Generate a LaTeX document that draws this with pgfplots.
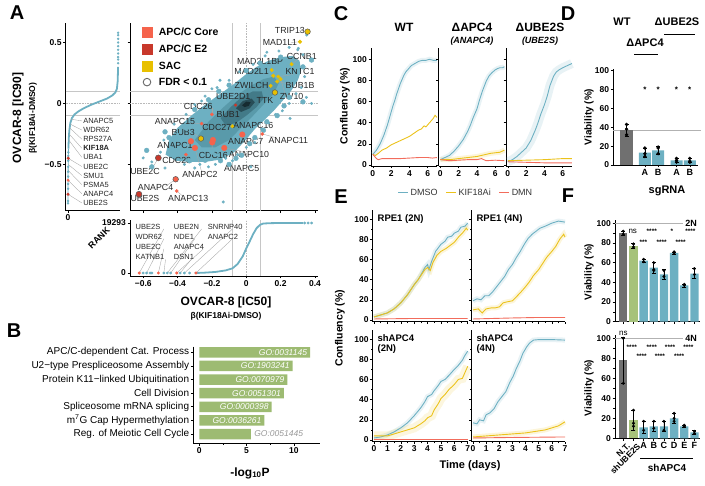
\documentclass[border=0pt]{standalone}
\usepackage{pgfplots}
\usepackage{pgfplotstable}
\pgfplotsset{compat=1.18}
\usepackage{fontspec}
\setmainfont{Liberation Sans}
\definecolor{tealc}{HTML}{6DB0C2}
\definecolor{goldc}{HTML}{EBC21B}
\definecolor{dmnc}{HTML}{F26C5C}
\definecolor{corec}{HTML}{F5634C}
\definecolor{e2c}{HTML}{C8382B}
\definecolor{sacc}{HTML}{E8C000}
\definecolor{grayb}{HTML}{707070}
\definecolor{greenb}{HTML}{A6C27A}
\definecolor{goc}{HTML}{9DBB72}
\definecolor{tl2}{HTML}{5595A5}
\definecolor{tl3}{HTML}{3D7280}
\definecolor{tl4}{HTML}{24464F}
\definecolor{tl5}{HTML}{15282D}
\newcommand{\fs}[1]{\fontsize{#1}{#1}\selectfont}
\pgfplotsset{
 base/.style={scale only axis, axis x line*=bottom, axis y line*=left,
   axis line style={line width=0.8pt, black},
   every tick/.append style={black, line width=0.6pt},
   scaled ticks=false,
   tick align=outside, major tick length=2.5pt, minor tick length=1.6pt,
   ticklabel style={font=\bfseries\fs{8.5}, inner sep=1.5pt}, clip=false},
 curve/.style={line width=0.9pt},
 band/.style={line width=5pt, opacity=0.16, forget plot},
}
\tikzset{gl/.style={font=\fs{8.8}, inner sep=0.5pt, text=black!85},
 sl/.style={font=\fs{7.5}, inner sep=0.5pt, text=black!85},
 ld/.style={gray!70, line width=0.35pt}}

% ---- C data
\pgfplotstableread{
x y
0 10
0.2 12
0.4 14
0.6 17
0.8 20
1 24
1.2 28
1.4 33
1.6 38
1.8 44
2 50
2.2 56
2.4 61
2.6 67
2.8 72
3 77
3.2 81
3.4 85
3.6 88
3.8 90
4 92
4.2 94
4.4 95
4.6 96
4.8 97
5 98
5.4 99
5.8 99
6.2 100
6.6 99
7 99
}\cWTd
\pgfplotstableread{
x y
0 10
0.3 9
0.6 11
1 14
1.5 16
2 19
2.5 21
3 23
3.5 25
4 27
4.5 30
5 33
5.3 34
5.6 37
5.8 36
6 38
6.2 40
6.4 42
6.6 44
6.8 47
7 45
}\cWTk
\pgfplotstableread{
x y
0 10
0.2 8
0.4 6
0.6 5
1 6
2 6
3 6
4 6.5
5 7
6 7
6.5 6.5
7 7
}\cWTm
\pgfplotstableread{
x y
0 5
0.5 7
1 9
1.5 13
2 18
2.5 24
3 32
3.3 38
3.6 45
4 53
4.3 62
4.6 70
5 79
5.3 84
5.6 87
6 90
6.2 91
6.5 92
6.8 92
7 93
}\cAd
\pgfplotstableread{
x y
0 5
1 5
2 6
3 7
4 8
5 10
5.5 11
6 11.5
6.5 12
7 14
}\cAk
\pgfplotstableread{
x y
0 5
1 4
2 4.5
3 5
4 5
4.5 6
5 4
6 4.5
7 4
}\cAm
\pgfplotstableread{
x y
0 3
0.5 5
1 8
1.5 12
2 16
2.5 23
3 33
3.3 40
3.6 48
4 57
4.3 65
4.6 75
5 84
5.3 88
5.6 90
6 92
6.5 94
7 96
}\cUd
\pgfplotstableread{
x y
0 4
2 4.5
4 5
6 6
7 6
}\cUk
\pgfplotstableread{
x y
0 3
2 2.5
4 2
7 2
}\cUm
% ---- E data
\pgfplotstableread{
x y
0 3
0.5 5
1 7
1.5 11
2 17
2.5 25
3 35
3.3 40
3.6 47
3.8 52
4 55
4.1 50
4.3 58
4.6 68
5 75
5.3 78
5.5 82
5.8 83
6 86
6.3 88
6.5 92
6.8 93
7 96
}\eAd
\pgfplotstableread{
x y
0 3
0.5 5
1 7
1.5 11
2 17
2.5 25
3 35
3.3 40
3.6 46
3.8 50
4 52
4.2 49
4.4 57
4.7 64
5 68
5.4 71
5.7 74
6 77
6.3 82
6.6 86
6.9 91
7 89
}\eAk
\pgfplotstableread{
x y
0 1
3 1.5
5 1.5
7 1.5
}\eAm
\pgfplotstableread{
x y
0 19
0.3 21
0.6 20
0.9 24
1.2 24
1.5 28
1.8 33
2.1 38
2.4 43
2.7 50
3 55
3.3 62
3.6 68
3.9 75
4.2 81
4.5 85
4.8 88
5.1 91
5.5 93
6 96
6.5 98
7 97
}\eBd
\pgfplotstableread{
x y
0 10
0.4 11
0.7 7
1 11
1.4 12
1.7 12
2 13
2.3 17
2.6 18
3 19
3.3 23
3.6 27
4 33
4.3 38
4.6 44
5 50
5.3 56
5.6 62
6 68
6.3 73
6.6 80
6.9 85
7 82
}\eBk
\pgfplotstableread{
x y
0 1
3 2
5 2.5
7 2.5
}\eBm
\pgfplotstableread{
x y
0 2
0.5 3
1 5
1.5 8
2 12
2.5 17
3 24
3.5 32
3.8 38
4 43
4.3 45
4.5 49
4.8 54
5 58
5.3 60
5.6 64
6 70
6.3 74
6.6 79
6.8 84
7 88
}\eCd
\pgfplotstableread{
x y
0 4
0.5 4
1 4
1.5 6
2 8
2.5 10
3 12
3.5 16
3.8 19
4 22
4.3 24
4.5 30
4.8 36
5 41
5.3 45
5.6 50
6 55
6.3 60
6.6 61
6.8 67
7 73
}\eCk
\pgfplotstableread{
x y
0 1
7 1
}\eCm
\pgfplotstableread{
x y
0 17
0.3 16
0.5 20
0.8 19
1 25
1.3 27
1.6 31
1.9 38
2.2 43
2.5 48
2.8 57
3.05 63
3.3 71
3.56 78
3.8 86
4.07 92
4.3 96
4.6 99
5 99.5
6 99.5
7 99
}\eDd
\pgfplotstableread{
x y
0 3
1 4
2 5
3 6
4 7
5 9
5.5 10
6 12
6.5 14
7 18
}\eDk
\pgfplotstableread{
x y
0 2
3 2.5
7 3
}\eDm

\begin{document}
\begin{tikzpicture}
\useasboundingbox (0pt,0pt) rectangle (705pt,-486pt);

% ================= Panel A: left marginal
\begin{axis}[base, at={(65.7pt,-23pt)}, anchor=north west, width=54.3pt, height=187.7pt,
  xmin=-900, xmax=20000, ymin=-0.88, ymax=0.66,
  xtick={0}, xticklabels={0}, ytick={-0.5,0,0.5}, yticklabels={−0.5,0,0.5}]
\addplot[gray!45, line width=0.8pt] coordinates {(-900,0.1)(20000,0.1)};
\addplot[gray!45, line width=0.8pt] coordinates {(-900,-0.1)(20000,-0.1)};
\addplot[gray!55, line width=0.6pt, densely dotted] coordinates {(-900,0)(20000,0)};
\addplot[tealc, line width=0.8pt] coordinates {(0,-0.82)(0,-0.6)(60,-0.5)(150,-0.37)};
\addplot[tealc, line width=1.8pt] coordinates {(150,-0.37)(300,-0.28)(500,-0.22)(900,-0.16)(1500,-0.12)(2500,-0.09)(4000,-0.065)(6000,-0.04)(9000,-0.01)(12000,0.015)(15000,0.04)(17000,0.065)(18200,0.09)(18800,0.12)(19100,0.18)(19200,0.25)(19250,0.3)};
\addplot[only marks, mark=*, mark size=1pt, tealc] coordinates {(0,-0.82)(0,-0.8)(20,-0.7)(30,-0.66)(40,-0.6)(50,-0.56)(60,-0.52)(80,-0.47)(100,-0.43)(120,-0.4)(19260,0.33)(19270,0.36)(19275,0.38)(19280,0.41)(19285,0.44)(19288,0.47)(19290,0.5)(19293,0.53)(19293,0.56)(19293,0.58)};
\addplot[ld] coordinates {(5300,-0.143)(1300,-0.13)};
\addplot[ld] coordinates {(5300,-0.218)(850,-0.17)};
\addplot[ld] coordinates {(5300,-0.293)(600,-0.2)};
\addplot[ld] coordinates {(5300,-0.367)(400,-0.25)};
\addplot[ld] coordinates {(5300,-0.442)(260,-0.3)};
\addplot[ld] coordinates {(5300,-0.517)(80,-0.45)};
\addplot[ld] coordinates {(5300,-0.592)(55,-0.5)};
\addplot[ld] coordinates {(5300,-0.666)(40,-0.55)};
\addplot[ld] coordinates {(5300,-0.741)(22,-0.63)};
\addplot[ld] coordinates {(5300,-0.816)(5,-0.745)};
\addplot[only marks, mark=*, mark size=1.3pt, corec] coordinates {(22,-0.63)};
\addplot[only marks, mark=*, mark size=1.3pt, e2c] coordinates {(5,-0.745)(80,-0.45)};
\node[sl, anchor=west] at (axis cs:5600,-0.143) {ANAPC5};
\node[sl, anchor=west] at (axis cs:5600,-0.218) {WDR62};
\node[sl, anchor=west] at (axis cs:5600,-0.293) {RPS27A};
\node[sl, anchor=west] at (axis cs:5600,-0.367) {\bfseries KIF18A};
\node[sl, anchor=west] at (axis cs:5600,-0.442) {UBA1};
\node[sl, anchor=west] at (axis cs:5600,-0.517) {UBE2C};
\node[sl, anchor=west] at (axis cs:5600,-0.592) {SMU1};
\node[sl, anchor=west] at (axis cs:5600,-0.666) {PSMA5};
\node[sl, anchor=west] at (axis cs:5600,-0.741) {ANAPC4};
\node[sl, anchor=west] at (axis cs:5600,-0.816) {UBE2S};
\end{axis}

% ================= Panel A: main scatter
\begin{axis}[base, at={(130pt,-23pt)}, anchor=north west, width=188.4pt, height=187.7pt,
  xmin=-0.677, xmax=0.42, ymin=-0.88, ymax=0.66,
  xtick={-0.6,-0.4,-0.2,0,0.2,0.4}, xticklabels={}, ytick={-0.5,0,0.5}, yticklabels={}]
\addplot[gray!45, line width=0.8pt] coordinates {(-0.677,0.1)(0.42,0.1)};
\addplot[gray!45, line width=0.8pt] coordinates {(-0.677,-0.1)(0.42,-0.1)};
\addplot[gray!55, line width=0.6pt, densely dotted] coordinates {(-0.677,0)(0.42,0)};
\addplot[gray!45, line width=0.8pt] coordinates {(-0.08,-0.88)(-0.08,0.66)};
\addplot[gray!45, line width=0.8pt] coordinates {(0.08,-0.88)(0.08,0.66)};
\addplot[gray!55, line width=0.6pt, densely dotted] coordinates {(0,-0.88)(0,0.66)};
% cloud
\addplot[fill=tealc, draw=none] coordinates {(-0.47,-0.42)(-0.45,-0.3)(-0.40,-0.2)(-0.32,-0.1)(-0.24,-0.01)(-0.16,0.07)(-0.08,0.15)(-0.01,0.23)(0.06,0.3)(0.13,0.35)(0.2,0.38)(0.27,0.39)(0.31,0.35)(0.32,0.27)(0.3,0.19)(0.26,0.1)(0.21,0.02)(0.16,-0.06)(0.11,-0.13)(0.05,-0.21)(-0.01,-0.31)(-0.07,-0.4)(-0.15,-0.46)(-0.24,-0.48)(-0.33,-0.48)(-0.41,-0.47)} -- cycle;
\addplot[only marks, mark=*, mark size=1.3pt, tealc] coordinates {(-0.48,-0.3)(-0.44,-0.36)(-0.4,-0.25)(-0.36,-0.5)(-0.3,-0.53)(-0.27,-0.5)(-0.22,-0.52)(-0.18,-0.5)(-0.12,-0.45)(-0.08,-0.47)(-0.05,-0.42)(0.0,-0.36)(0.05,-0.32)(0.09,-0.21)(0.13,-0.16)(0.17,-0.09)(0.21,-0.06)(0.25,0.0)(0.29,0.08)(0.32,0.13)(0.34,0.22)(0.3,0.44)(0.25,0.46)(0.19,0.43)(0.11,0.39)(0.04,0.32)(-0.04,0.26)(-0.1,0.19)(-0.17,0.13)(-0.24,0.06)(-0.3,-0.01)(-0.35,-0.09)(-0.42,-0.17)(-0.5,-0.4)(-0.55,-0.48)(0.255,-0.123)(-0.153,0.19)(0.352,0.561)(0.303,0.452)(-0.134,-0.808)(0.35,0.05)(0.38,0.0)(0.027,-0.52)(-0.6,-0.447)(-0.473,-0.53)(-0.2,0.12)(-0.26,0.02)(0.12,0.42)(0.33,0.4)};
\addplot[only marks, mark=*, mark size=2.4pt, tealc] coordinates {(0.38,0.356)(0.33,0.013)(-0.473,-0.233)(-0.58,-0.385)(-0.24,-0.466)(-0.027,-0.425)(-0.06,-0.45)(-0.15,-0.47)(0.1,-0.22)(0.18,-0.1)(0.25,0.05)(-0.3,-0.05)(-0.1,0.15)(0.0,0.27)(0.2,0.38)(-0.45,-0.28)(-0.35,-0.2)(0.05,-0.28)(-0.2,-0.4)(0.3,0.3)(0.28,0.22)(-0.38,-0.38)(-0.55,-0.52)(-0.22,0.03)(-0.16,0.1)(0.12,-0.15)(0.22,-0.02)(0.33,0.3)(0.08,0.33)(-0.42,-0.43)(-0.33,-0.47)(0.02,-0.33)(-0.1,-0.5)};
\addplot[fill=tl2, draw=none, opacity=0.8] coordinates {(-0.3,-0.3)(-0.22,-0.15)(-0.14,-0.04)(-0.06,0.06)(0.02,0.14)(0.1,0.2)(0.16,0.22)(0.19,0.17)(0.16,0.08)(0.1,-0.01)(0.04,-0.1)(-0.03,-0.2)(-0.1,-0.3)(-0.18,-0.36)(-0.26,-0.36)} -- cycle;
\addplot[fill=tl3, draw=none, opacity=0.8] coordinates {(-0.15,-0.12)(-0.09,-0.03)(-0.03,0.05)(0.04,0.1)(0.09,0.1)(0.1,0.04)(0.06,-0.03)(0.0,-0.1)(-0.06,-0.16)(-0.12,-0.18)} -- cycle;
\addplot[fill=tl4, draw=none, opacity=0.85] coordinates {(-0.06,-0.04)(-0.02,0.02)(0.03,0.04)(0.05,0.01)(0.02,-0.04)(-0.03,-0.07)} -- cycle;
\addplot[fill=tl5, draw=none, opacity=0.9] coordinates {(-0.025,-0.015)(0.0,0.015)(0.025,0.01)(0.015,-0.02)(-0.01,-0.03)} -- cycle;
% leader lines
\addplot[ld] coordinates {(0.31,0.6)(0.357,0.589)};
\addplot[ld] coordinates {(0.26,0.5)(0.313,0.506)};
\addplot[ld] coordinates {(0.3,0.36)(0.264,0.322)};
\addplot[ld] coordinates {(0.29,0.24)(0.186,0.22)};
\addplot[ld] coordinates {(0.28,0.15)(0.18,0.18)};
\addplot[ld] coordinates {(0.23,0.06)(0.2,0.2)};
\addplot[ld] coordinates {(-0.2,-0.04)(-0.2,-0.09)};
\addplot[ld] coordinates {(-0.34,-0.16)(-0.26,-0.165)};
\addplot[ld] coordinates {(-0.09,-0.19)(-0.081,-0.187)};
\addplot[ld] coordinates {(-0.3,-0.25)(-0.264,-0.288)};
\addplot[ld] coordinates {(0.17,-0.28)(0.093,-0.25)};
\addplot[ld] coordinates {(-0.34,-0.35)(-0.322,-0.31)};
\addplot[ld] coordinates {(-0.2,-0.4)(-0.198,-0.32)};
\addplot[ld] coordinates {(0.0,-0.4)(-0.128,-0.365)};
\addplot[ld] coordinates {(-0.36,-0.45)(-0.351,-0.42)};
\addplot[ld] coordinates {(0.0,-0.51)(0.027,-0.52)};
\addplot[ld] coordinates {(-0.55,-0.54)(-0.512,-0.447)};
\addplot[ld] coordinates {(-0.26,-0.56)(-0.299,-0.365)};
\addplot[ld] coordinates {(-0.47,-0.68)(-0.411,-0.622)};
\addplot[ld] coordinates {(-0.37,-0.76)(-0.405,-0.718)};
\addplot[ld] coordinates {(-0.6,-0.76)(-0.625,-0.745)};
% gene points
\addplot[only marks, mark=*, mark size=1.6pt, corec] coordinates {(-0.2,-0.09)(-0.26,-0.165)(-0.351,-0.42)(-0.405,-0.718)(0.093,-0.25)};
\addplot[only marks, mark=*, mark size=2.8pt, corec] coordinates {(-0.194,-0.30)(-0.023,-0.255)(-0.322,-0.31)(-0.299,-0.365)(-0.128,-0.365)(-0.198,-0.32)};
\addplot[only marks, mark=*, mark size=2.8pt, corec, mark options={draw=black!65, line width=0.5pt}] coordinates {(-0.411,-0.622)};
\addplot[only marks, mark=*, mark size=1.3pt, e2c] coordinates {(-0.062,-0.014)};
\addplot[only marks, mark=*, mark size=3pt, e2c, mark options={draw=black!65, line width=0.5pt}] coordinates {(-0.512,-0.447)(-0.625,-0.745)};
\addplot[only marks, mark=*, mark size=1.8pt, sacc] coordinates {(0.313,0.506)(0.264,0.322)(0.148,0.274)(0.157,0.227)(0.186,0.22)(0.142,0.145)(0.18,0.18)(0.2,0.2)(-0.081,-0.187)};
\addplot[only marks, mark=*, mark size=2.8pt, sacc, mark options={draw=black!65, line width=0.5pt}] coordinates {(0.357,0.589)(0.167,0.09)(-0.264,-0.288)};
% labels
\node[gl] at (axis cs:0.254,0.602) {TRIP13};
\node[gl] at (axis cs:0.196,0.501) {MAD1L1};
\node[gl] at (axis cs:0.323,0.383) {CCNB1};
\node[gl] at (axis cs:0.08,0.342) {MAD2L1BP};
\node[gl] at (axis cs:0.031,0.26) {MAD2L1};
\node[gl] at (axis cs:0.313,0.26) {KNTC1};
\node[gl] at (axis cs:0.031,0.15) {ZWILCH};
\node[gl] at (axis cs:0.313,0.15) {BUB1B};
\node[gl] at (axis cs:0.109,0.027) {TTK};
\node[gl] at (axis cs:0.264,0.054) {ZW10};
\node[gl] at (axis cs:-0.076,0.054) {UBE2D1};
\node[gl] at (axis cs:-0.28,-0.028) {CDC26};
\node[gl] at (axis cs:-0.105,-0.088) {BUB1};
\node[gl] at (axis cs:-0.415,-0.145) {ANAPC15};
\node[gl] at (axis cs:-0.172,-0.2) {CDC27};
\node[gl] at (axis cs:0.041,-0.184) {ANAPC16};
\node[gl] at (axis cs:-0.367,-0.238) {BUB3};
\node[gl] at (axis cs:-0.003,-0.31) {ANAPC7};
\node[gl] at (axis cs:0.245,-0.30) {ANAPC11};
\node[gl] at (axis cs:-0.415,-0.348) {ANAPC1};
\node[gl] at (axis cs:-0.192,-0.425) {CDC16};
\node[gl] at (axis cs:0.016,-0.42) {ANAPC10};
\node[gl] at (axis cs:-0.405,-0.471) {CDC23};
\node[gl] at (axis cs:-0.027,-0.534) {ANAPC5};
\node[gl] at (axis cs:-0.59,-0.562) {UBE2C};
\node[gl] at (axis cs:-0.27,-0.583) {ANAPC2};
\node[gl] at (axis cs:-0.528,-0.69) {ANAPC4};
\node[gl] at (axis cs:-0.338,-0.776) {ANAPC13};
\node[gl] at (axis cs:-0.59,-0.776) {UBE2S};
% legend
\addplot[only marks, mark=square*, mark size=5pt, corec] coordinates {(-0.578,0.586)};
\addplot[only marks, mark=square*, mark size=5pt, e2c] coordinates {(-0.578,0.446)};
\addplot[only marks, mark=square*, mark size=5pt, sacc] coordinates {(-0.578,0.306)};
\addplot[only marks, mark=o, mark size=3.8pt, black!60, mark options={line width=0.9pt}] coordinates {(-0.578,0.175)};
\node[anchor=west, font=\bfseries\fs{10.5}, inner sep=0] at (axis cs:-0.51,0.586) {APC/C Core};
\node[anchor=west, font=\bfseries\fs{10.5}, inner sep=0] at (axis cs:-0.51,0.446) {APC/C E2};
\node[anchor=west, font=\bfseries\fs{10.5}, inner sep=0] at (axis cs:-0.51,0.306) {SAC};
\node[anchor=west, font=\bfseries\fs{10.5}, inner sep=0] at (axis cs:-0.51,0.175) {FDR < 0.1};
\end{axis}

% ================= Panel A: lower marginal
\begin{axis}[base, at={(130pt,-220pt)}, anchor=north west, width=188.4pt, height=56pt,
  xmin=-0.677, xmax=0.42, ymin=-1158, ymax=20451,
  xtick={-0.6,-0.4,-0.2,0,0.2,0.4}, xticklabels={−0.6,−0.4,−0.2,0,0.2,0.4},
  ytick={0,19293}, yticklabels={0,19293}]
\addplot[gray!45, line width=0.8pt] coordinates {(-0.08,-1158)(-0.08,20451)};
\addplot[gray!45, line width=0.8pt] coordinates {(0.08,-1158)(0.08,20451)};
\addplot[gray!55, line width=0.6pt, densely dotted] coordinates {(0,-1158)(0,20451)};
\addplot[ld] coordinates {(-0.48,17000)(-0.623,0)};
\addplot[ld] coordinates {(-0.48,13200)(-0.58,0)};
\addplot[ld] coordinates {(-0.48,9300)(-0.512,0)};
\addplot[ld] coordinates {(-0.47,5300)(-0.48,0)};
\addplot[ld] coordinates {(-0.26,17000)(-0.46,0)};
\addplot[ld] coordinates {(-0.3,13200)(-0.44,0)};
\addplot[ld] coordinates {(-0.25,9300)(-0.405,0)};
\addplot[ld] coordinates {(-0.32,5300)(-0.385,0)};
\addplot[ld] coordinates {(-0.08,17000)(-0.36,0)};
\addplot[ld] coordinates {(-0.08,13200)(-0.293,0)};
\addplot[tealc, line width=1.8pt] coordinates {(-0.3,0)(-0.25,100)(-0.18,400)(-0.12,1000)(-0.08,1800)(-0.05,3500)(-0.02,6500)(0.0,9500)(0.02,12200)(0.04,15000)(0.06,17300)(0.08,18600)(0.1,19100)(0.15,19250)(0.25,19285)(0.33,19293)};
\addplot[only marks, mark=*, mark size=1.2pt, tealc] coordinates {(-0.6,0)(-0.58,0)(-0.56,0)(-0.55,0)(-0.48,0)(-0.46,0)(-0.44,0)(-0.385,0)(-0.36,0)(-0.33,0)(0.34,19293)(0.36,19293)(0.38,19293)};
\addplot[only marks, mark=*, mark size=1.3pt, corec] coordinates {(-0.623,0)(-0.512,0)(-0.405,0)(-0.293,0)};
\node[sl, anchor=west] at (axis cs:-0.648,17634) {UBE2S};
\node[sl, anchor=west] at (axis cs:-0.648,13775) {WDR62};
\node[sl, anchor=west] at (axis cs:-0.648,9917) {UBE2C};
\node[sl, anchor=west] at (axis cs:-0.648,6058) {KATNB1};
\node[sl, anchor=west] at (axis cs:-0.425,17634) {UBE2N};
\node[sl, anchor=west] at (axis cs:-0.425,13775) {NDE1};
\node[sl, anchor=west] at (axis cs:-0.425,9917) {ANAPC4};
\node[sl, anchor=west] at (axis cs:-0.425,6058) {DSN1};
\node[sl, anchor=west] at (axis cs:-0.227,17634) {SNRNP40};
\node[sl, anchor=west] at (axis cs:-0.227,13775) {ANAPC2};
\end{axis}
\node[font=\bfseries\fs{12}] at (226pt,-302pt) {OVCAR-8 [IC50]};
\node[font=\bfseries\fs{8.5}] at (226pt,-316pt) {β(KIF18Ai-DMSO)};
\node[font=\bfseries\fs{12}, rotate=90] at (18pt,-118pt) {OVCAR-8 [IC90]};
\node[font=\bfseries\fs{8.5}, rotate=90] at (33pt,-118pt) {β(KIF18Ai-DMSO)};
\node[font=\bfseries\fs{9}, rotate=45] at (99pt,-238pt) {RANK};

% ================= Panel B
\begin{axis}[base, at={(193.3pt,-346.7pt)}, anchor=north west, width=126.7pt, height=96.6pt,
  xmin=-0.63, xmax=12.75, ymin=0.59, ymax=7.68, y dir=reverse,
  xtick={0,5,10}, xticklabels={0,5,10}, minor xtick={2.5,7.5},
  ytick={1,2,3,4,5,6,7},
  yticklabels={APC/C-dependent Cat. Process, U2−type Prespliceosome Assembly, Protein K11−linked Ubiquitination, Cell Division, Spliceosome mRNA splicing, m\textsuperscript{7}G Cap Hypermethylation, Reg. of Meiotic Cell Cycle},
  yticklabel style={font=\fs{10}}]
\addplot[xbar, bar shift=0pt, bar width=10.5pt, fill=goc, draw=none] coordinates {(11.7,1)(9.86,2)(9.3,3)(8.94,4)(7.64,5)(6.87,6)(5.46,7)};
\node[anchor=east, font=\itshape\fs{8.5}, text=white, inner sep=0] at (axis cs:11.4,1) {GO:0031145};
\node[anchor=east, font=\itshape\fs{8.5}, text=white, inner sep=0] at (axis cs:9.56,2) {GO:1903241};
\node[anchor=east, font=\itshape\fs{8.5}, text=white, inner sep=0] at (axis cs:9.0,3) {GO:0070979};
\node[anchor=east, font=\itshape\fs{8.5}, text=white, inner sep=0] at (axis cs:8.64,4) {GO:0051301};
\node[anchor=east, font=\itshape\fs{8.5}, text=white, inner sep=0] at (axis cs:7.34,5) {GO:0000398};
\node[anchor=east, font=\itshape\fs{8.5}, text=white, inner sep=0] at (axis cs:6.57,6) {GO:0036261};
\node[anchor=west, font=\itshape\fs{8.5}, text=gray!80, inner sep=0] at (axis cs:5.8,7) {GO:0051445};
\end{axis}
\node[font=\bfseries\fs{12}] at (250pt,-473pt) {-log\textsubscript{10}P};

% ================= Panel C
\begin{axis}[base, at={(371pt,-48.3pt)}, anchor=north west, width=65.9pt, height=117.7pt,
  xmin=-0.2, xmax=7, ymin=-1, ymax=110.4, xtick={0,2,4,6}, xticklabels={0,2,4,6},
  ytick={0,20,40,60,80,100}, yticklabels={0,20,40,60,80,100}]
\addplot[tealc, band] table {\cWTd};
\addplot[tealc, curve] table {\cWTd};
\addplot[goldc, curve] table {\cWTk};
\addplot[dmnc, curve] table {\cWTm};
\end{axis}
\begin{axis}[base, at={(438.5pt,-48.3pt)}, anchor=north west, width=65.9pt, height=117.7pt,
  xmin=-0.2, xmax=7, ymin=-1, ymax=110.4, xtick={0,2,4,6}, xticklabels={0,2,4,6},
  ytick={0,20,40,60,80,100}, yticklabels={}]
\addplot[tealc, band] table {\cAd};
\addplot[goldc, band] table {\cAk};
\addplot[tealc, curve] table {\cAd};
\addplot[goldc, curve] table {\cAk};
\addplot[dmnc, curve] table {\cAm};
\end{axis}
\begin{axis}[base, at={(506pt,-48.3pt)}, anchor=north west, width=65.9pt, height=117.7pt,
  xmin=-0.2, xmax=7, ymin=-1, ymax=110.4, xtick={0,2,4,6}, xticklabels={0,2,4,6},
  ytick={0,20,40,60,80,100}, yticklabels={}]
\addplot[tealc, line width=9pt, opacity=0.16, forget plot] table {\cUd};
\addplot[tealc, curve] table {\cUd};
\addplot[goldc, curve] table {\cUk};
\addplot[dmnc, curve] table {\cUm};
\end{axis}
\node[font=\bfseries\fs{10.5}, rotate=90] at (345pt,-106pt) {Confluency (\%)};
\node[font=\bfseries\fs{12}] at (404pt,-27pt) {WT};
\node[font=\bfseries\fs{12}] at (472pt,-27pt) {ΔAPC4};
\node[font=\bfseries\itshape\fs{9}] at (472pt,-41pt) {(ANAPC4)};
\node[font=\bfseries\fs{12}] at (540pt,-27pt) {ΔUBE2S};
\node[font=\bfseries\itshape\fs{9}] at (540pt,-41pt) {(UBE2S)};

% ================= Panel E
\begin{axis}[base, at={(372.7pt,-210pt)}, anchor=north west, width=95pt, height=111.7pt,
  xmin=-0.1, xmax=7, ymin=-1.7, ymax=109, xtick={0,...,7}, xticklabels={}, minor x tick num=1,
  ytick={0,20,40,60,80,100}, yticklabels={0,20,40,60,80,100}, minor y tick num=1,
  legend style={draw=none, fill=none, at={(0.982,1.155)}, anchor=center, legend columns=3,
    font=\fs{9}, text=black!80, /tikz/every even column/.append style={column sep=6pt}},
  legend image code/.code={\draw[#1] (0pt,0pt) -- (10pt,0pt);}]
\addlegendimage{tealc, line width=1pt}\addlegendentry{DMSO}
\addlegendimage{goldc, line width=1pt}\addlegendentry{KIF18Ai}
\addlegendimage{dmnc, line width=1pt}\addlegendentry{DMN}
\addplot[tealc, band] table {\eAd};
\addplot[goldc, band] table {\eAk};
\addplot[tealc, curve] table {\eAd};
\addplot[goldc, curve] table {\eAk};
\addplot[dmnc, curve] table {\eAm};
\node[anchor=north west, font=\bfseries\fs{9.5}, inner sep=0] at (axis description cs:0.05,0.96) {RPE1 (2N)};
\end{axis}
\begin{axis}[base, at={(471.7pt,-210pt)}, anchor=north west, width=93.3pt, height=111.7pt,
  xmin=-0.1, xmax=7, ymin=-1.7, ymax=109, xtick={0,...,7}, xticklabels={}, minor x tick num=1,
  ytick={0,20,40,60,80,100}, yticklabels={}, minor y tick num=1]
\addplot[tealc, band] table {\eBd};
\addplot[goldc, band] table {\eBk};
\addplot[tealc, curve] table {\eBd};
\addplot[goldc, curve] table {\eBk};
\addplot[dmnc, curve] table {\eBm};
\node[anchor=north west, font=\bfseries\fs{9.5}, inner sep=0] at (axis description cs:0.05,0.96) {RPE1 (4N)};
\end{axis}
\begin{axis}[base, at={(372.7pt,-330pt)}, anchor=north west, width=95pt, height=111.7pt,
  xmin=-0.1, xmax=7, ymin=-1.7, ymax=109, xtick={0,...,7}, xticklabels={0,1,2,3,4,5,6,7}, minor x tick num=1,
  ytick={0,20,40,60,80,100}, yticklabels={0,20,40,60,80,100}, minor y tick num=1]
\addplot[tealc, band] table {\eCd};
\addplot[goldc, line width=9pt, opacity=0.14, forget plot] table {\eCk};
\addplot[tealc, curve] table {\eCd};
\addplot[goldc, curve] table {\eCk};
\addplot[dmnc, curve] table {\eCm};
\node[anchor=north west, font=\bfseries\fs{9.5}, inner sep=0, align=left] at (axis description cs:0.05,0.96) {shAPC4\\(2N)};
\end{axis}
\begin{axis}[base, at={(471.7pt,-330pt)}, anchor=north west, width=93.3pt, height=111.7pt,
  xmin=-0.1, xmax=7, ymin=-1.7, ymax=109, xtick={0,...,7}, xticklabels={0,1,2,3,4,5,6,7}, minor x tick num=1,
  ytick={0,20,40,60,80,100}, yticklabels={}, minor y tick num=1]
\addplot[tealc, band] table {\eDd};
\addplot[goldc, band] table {\eDk};
\addplot[tealc, curve] table {\eDd};
\addplot[goldc, curve] table {\eDk};
\addplot[dmnc, curve] table {\eDm};
\node[anchor=north west, font=\bfseries\fs{9.5}, inner sep=0, align=left] at (axis description cs:0.05,0.96) {shAPC4\\(4N)};
\end{axis}
\node[font=\bfseries\fs{10.5}, rotate=90] at (340pt,-328pt) {Confluency (\%)};
\node[font=\bfseries\fs{11}] at (470pt,-466pt) {Time (days)};

% ================= Panel D
\begin{axis}[base, at={(613.3pt,-68.8pt)}, anchor=north west, width=85pt, height=96.2pt,
  xmin=-1, xmax=5.4, ymin=0, ymax=102, xtick={1.38,2.38,3.76,4.76}, xticklabels={A,B,A,B},
  xticklabel style={font=\bfseries\fs{9}},
  ytick={0,20,40,60,80,100}, yticklabels={0,20,40,60,80,100}]
\addplot[gray!60, line width=0.8pt] coordinates {(-1,37)(5.6,37)};
\addplot[ybar, bar shift=0pt, bar width=13pt, fill=grayb, draw=none,
  error bars/.cd, y dir=both, y explicit, error bar style={line width=0.8pt, black}]
  coordinates {(0,37) +- (0,6)};
\addplot[ybar, bar shift=0pt, bar width=12pt, fill=tealc, draw=none,
  error bars/.cd, y dir=both, y explicit, error bar style={line width=0.8pt, black}]
  coordinates {(1.38,13) +- (0,5) (2.38,15.5) +- (0,4) (3.76,5) +- (0,2) (4.76,5) +- (0,2)};
\addplot[only marks, mark=*, mark size=1.5pt, black] coordinates {(0,43)(0,38)(0,32)(1.38,18)(1.38,12)(1.38,9)(2.38,19)(2.38,18)(2.38,12)(3.76,7)(3.76,5)(3.76,3)(4.76,7)(4.76,4)(4.76,3)};
\node[font=\bfseries\fs{8}] at (axis cs:1.38,80) {*};
\node[font=\bfseries\fs{8}] at (axis cs:2.38,80) {*};
\node[font=\bfseries\fs{8}] at (axis cs:3.76,80) {*};
\node[font=\bfseries\fs{8}] at (axis cs:4.76,80) {*};
\end{axis}
\node[font=\bfseries\fs{10}, rotate=90] at (589pt,-117pt) {Viability (\%)};
\node[font=\bfseries\fs{11}] at (667pt,-191pt) {sgRNA};
\node[font=\bfseries\fs{11}] at (622pt,-22pt) {WT};
\node[font=\bfseries\fs{11}] at (677pt,-22pt) {ΔUBE2S};
\draw[line width=0.9pt] (664pt,-34pt) -- (695pt,-34pt);
\node[font=\bfseries\fs{11}] at (645pt,-43pt) {ΔAPC4};
\draw[line width=0.9pt] (634pt,-54pt) -- (658pt,-54pt);

% ================= Panel F top
\begin{axis}[base, at={(615pt,-220.4pt)}, anchor=north west, width=85pt, height=101.3pt,
  xmin=-0.82, xmax=7.55, ymin=0, ymax=103, xtick={0,...,7}, xticklabels={},
  ytick={0,20,40,60,80,100}, yticklabels={0,20,40,60,80,100}, minor y tick num=1]
\addplot[gray!60, line width=0.8pt] coordinates {(-0.82,100)(5.9,100)};
\addplot[ybar, bar shift=0pt, bar width=8.3pt, fill=grayb, draw=none,
  error bars/.cd, y dir=both, y explicit, error bar style={line width=0.8pt, black}]
  coordinates {(0,90) +- (0,2)};
\addplot[ybar, bar shift=0pt, bar width=8.3pt, fill=greenb, draw=none,
  error bars/.cd, y dir=both, y explicit, error bar style={line width=0.8pt, black}]
  coordinates {(1,77) +- (0,2.5)};
\addplot[ybar, bar shift=0pt, bar width=8.3pt, fill=tealc, draw=none,
  error bars/.cd, y dir=both, y explicit, error bar style={line width=0.8pt, black}]
  coordinates {(2,62) +- (0,2) (3,55) +- (0,6) (4,48) +- (0,5) (5,70) +- (0,1) (6,37) +- (0,1.5) (7,49) +- (0,5)};
\addplot[only marks, mark=*, mark size=1.3pt, black] coordinates {(0,92)(0,89)(1,79)(1,76)(2,63.5)(2,61)(3,60)(3,53)(3,52)(4,52)(4,46)(5,71)(5,70)(6,38)(6,37)(7,54)(7,48)};
\node[font=\bfseries\fs{9}, anchor=east] at (axis cs:7.6,100) {2N};
\node[font=\fs{8}] at (axis cs:0.93,91.5) {ns};
\node[font=\bfseries\fs{6.5}] at (axis cs:2.8,91.5) {****};
\node[font=\bfseries\fs{6.5}] at (axis cs:4.77,91.5) {*};
\node[font=\bfseries\fs{6.5}] at (axis cs:6.6,91.5) {****};
\node[font=\bfseries\fs{6.5}] at (axis cs:1.97,81) {***};
\node[font=\bfseries\fs{6.5}] at (axis cs:3.78,81) {****};
\node[font=\bfseries\fs{6.5}] at (axis cs:5.65,81) {****};
\end{axis}
% ================= Panel F bottom
\begin{axis}[base, at={(615pt,-335.3pt)}, anchor=north west, width=85pt, height=103pt,
  xmin=-0.82, xmax=7.55, ymin=0, ymax=103, xtick={0,...,7}, xticklabels={,,A,B,C,D,E,F},
  xticklabel style={font=\bfseries\fs{9}},
  ytick={0,20,40,60,80,100}, yticklabels={0,20,40,60,80,100}, minor y tick num=1]
\addplot[gray!60, line width=0.8pt] coordinates {(-0.82,100)(5.9,100)};
\addplot[ybar, bar shift=0pt, bar width=8.3pt, fill=grayb, draw=none,
  error bars/.cd, y dir=both, y explicit, error bar style={line width=0.8pt, black}]
  coordinates {(0,78) +- (0,23)};
\addplot[ybar, bar shift=0pt, bar width=8.3pt, fill=greenb, draw=none,
  error bars/.cd, y dir=both, y explicit, error bar style={line width=0.8pt, black}]
  coordinates {(1,18) +- (0,10)};
\addplot[ybar, bar shift=0pt, bar width=8.3pt, fill=tealc, draw=none,
  error bars/.cd, y dir=both, y explicit, error bar style={line width=0.8pt, black}]
  coordinates {(2,11) +- (0,6) (3,12) +- (0,5) (4,12) +- (0,5) (5,20) +- (0,5) (6,12) +- (0,1) (7,6) +- (0,2)};
\addplot[only marks, mark=*, mark size=1.3pt, black] coordinates {(0,100)(0,55)(1,28)(1,15)(1,12)(2,17)(2,8)(3,17)(3,10)(4,17)(4,8)(5,25)(5,20)(5,17)(6,12)(6,13)(7,7)(7,5)};
\node[font=\bfseries\fs{9}, anchor=east] at (axis cs:7.6,100) {4N};
\node[font=\fs{8}] at (axis cs:0,104.5) {ns};
\node[font=\bfseries\fs{6.5}] at (axis cs:0.83,91.5) {****};
\node[font=\bfseries\fs{6.5}] at (axis cs:2.8,91.5) {****};
\node[font=\bfseries\fs{6.5}] at (axis cs:4.6,91.5) {****};
\node[font=\bfseries\fs{6.5}] at (axis cs:6.4,91.5) {****};
\node[font=\bfseries\fs{6.5}] at (axis cs:1.8,82) {****};
\node[font=\bfseries\fs{6.5}] at (axis cs:3.6,82) {****};
\node[font=\bfseries\fs{6.5}] at (axis cs:5.5,82) {****};
\node[font=\bfseries\fs{8.5}, anchor=north east, rotate=45, inner sep=1pt] at ([yshift=-3pt]axis cs:0.3,0) {N.T.};
\node[font=\bfseries\fs{8.5}, anchor=north east, rotate=45, inner sep=1pt] at ([yshift=-3pt]axis cs:1.3,0) {shUBE2S};
\end{axis}
\node[font=\bfseries\fs{10}, rotate=90] at (589pt,-272pt) {Viability (\%)};
\node[font=\bfseries\fs{10}, rotate=90] at (589pt,-388pt) {Viability (\%)};
\draw[line width=0.9pt] (640pt,-458.3pt) -- (693pt,-458.3pt);
\node[font=\bfseries\fs{10}] at (667pt,-468pt) {shAPC4};

% ================= panel letters
\node[font=\bfseries\fs{20}] at (17pt,-13pt) {A};
\node[font=\bfseries\fs{20}] at (14pt,-331pt) {B};
\node[font=\bfseries\fs{20}] at (341pt,-14pt) {C};
\node[font=\bfseries\fs{20}] at (568pt,-14pt) {D};
\node[font=\bfseries\fs{20}] at (341pt,-197pt) {E};
\node[font=\bfseries\fs{20}] at (568pt,-196pt) {F};
\end{tikzpicture}
\end{document}
